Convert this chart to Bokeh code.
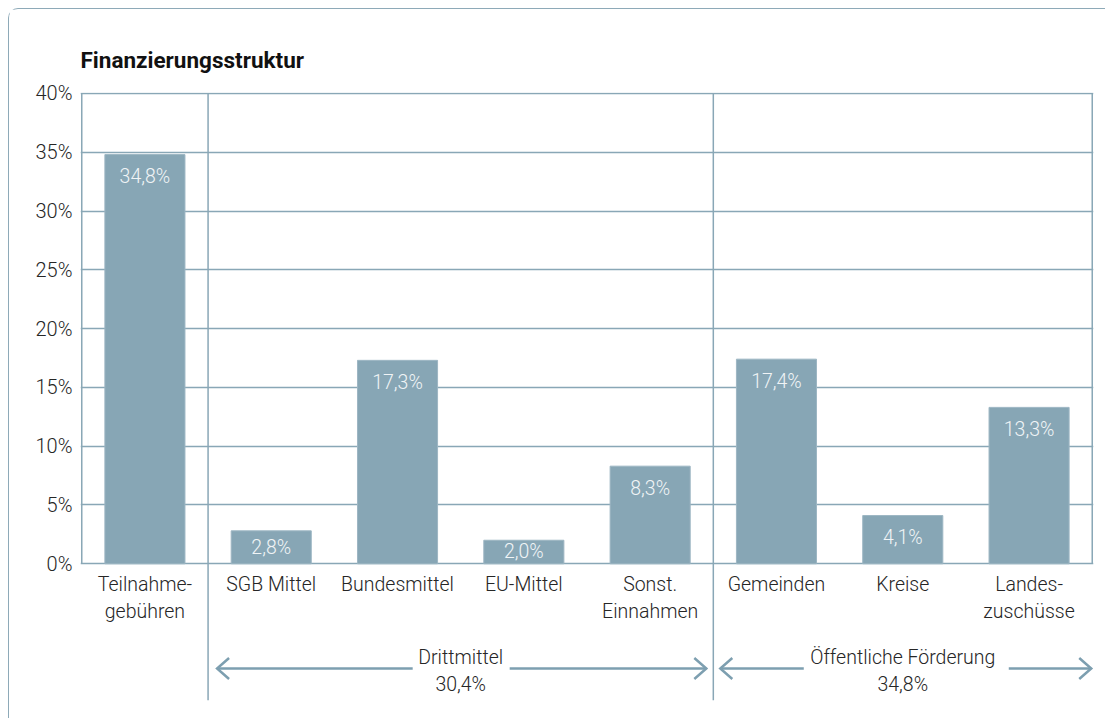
from bokeh.plotting import figure
from bokeh.models import FixedTicker, Range1d, ColumnDataSource
from bokeh.core.properties import value
from bokeh.embed import file_html
from bokeh.resources import INLINE

# ---------------- data ----------------
categories = ["Teilnahme-\ngebühren", "SGB Mittel", "Bundesmittel", "EU-Mittel",
              "Sonst.\nEinnahmen", "Gemeinden", "Kreise", "Landes-\nzuschüsse"]
shares = [34.8, 2.8, 17.3, 2.0, 8.3, 17.4, 4.1, 13.3]
share_labels = ["34,8%", "2,8%", "17,3%", "2,0%", "8,3%", "17,4%", "4,1%", "13,3%"]
y_ticks = [0, 5, 10, 15, 20, 25, 30, 35, 40]
y_tick_labels = ["0%", "5%", "10%", "15%", "20%", "25%", "30%", "35%", "40%"]
group_names = ["Drittmittel", "Öffentliche Förderung"]
group_totals = ["30,4%", "34,8%"]
group_first = [1, 5]
group_last = [4, 7]

# ---------------- style / geometry ----------------
FONT = "'Roboto Light', Roboto"
FONT_B = "Roboto"
FS = "19.5px"
BAR = "#87a6b5"
LINE = "#89a7b6"
ARROW = "#7d9fb0"
TEXT = "#262626"

W, H = 1097, 710
MB_L, MB_R, MB_T, MB_B = 71, 13, 83, 19
XR = (-0.51, 7.51)
YR = (-11.63, 40.08)
PX_X = (W - MB_L - MB_R) / (XR[1] - XR[0])   # pixels per x unit
PX_Y = (H - MB_T - MB_B) / (YR[1] - YR[0])   # pixels per y unit

p = figure(width=W, height=H, output_backend="svg", toolbar_location=None,
           x_range=Range1d(*XR), y_range=Range1d(*YR),
           min_border_left=MB_L, min_border_right=MB_R,
           min_border_top=MB_T, min_border_bottom=MB_B)
p.styles = {"margin-left": "8px", "margin-top": "8px",
            "border-left": "1.5px solid #8eaab8", "border-top": "1.5px solid #8eaab8",
            "border-top-left-radius": "10px"}
p.outline_line_color = None
p.background_fill_color = "white"
p.border_fill_color = "white"

# title
p.title.text = "Finanzierungsstruktur"
p.title.text_font = FONT_B
p.title.text_font_size = "22.5px"
p.title.text_font_style = "bold"
p.title.text_color = "#111111"
p.title.align = "left"
p.title.standoff = 40

# grid
p.xgrid.visible = False
p.ygrid.ticker = FixedTicker(ticks=y_ticks)
p.ygrid.grid_line_color = LINE
p.ygrid.grid_line_width = 1.5

# y axis
p.yaxis.ticker = FixedTicker(ticks=y_ticks)
p.yaxis.major_label_overrides = {t: l for t, l in zip(y_ticks, y_tick_labels)}
p.yaxis.axis_line_color = None
p.yaxis.major_tick_line_color = None
p.yaxis.minor_tick_line_color = None
p.yaxis.major_label_standoff = 2
p.yaxis.major_label_text_font = FONT
p.yaxis.major_label_text_font_size = "20px"
p.yaxis.major_label_text_color = TEXT

# x axis at the 0 line
idx = list(range(len(categories)))
p.xaxis.fixed_location = 0
p.xaxis.ticker = FixedTicker(ticks=idx)
p.xaxis.major_label_overrides = {i: c for i, c in zip(idx, categories)}
p.xaxis.axis_line_color = None
p.xaxis.major_tick_line_color = None
p.xaxis.minor_tick_line_color = None
p.xaxis.major_label_standoff = 3
p.xaxis.major_label_text_font = FONT
p.xaxis.major_label_text_font_size = FS
p.xaxis.major_label_text_color = TEXT
p.xaxis.major_label_text_line_height = 1.2

# frame side lines and group separators
seps = [group_first[0] - 0.5] + [l + 0.5 for l in group_last[:-1]]
p.segment(x0=[XR[0] + 0.01, XR[1] - 0.01], y0=[0, 0], x1=[XR[0] + 0.01, XR[1] - 0.01],
          y1=[y_ticks[-1]] * 2, line_color=LINE, line_width=1.5)
p.segment(x0=seps, y0=[YR[0]] * len(seps), x1=seps, y1=[y_ticks[-1]] * len(seps),
          line_color=LINE, line_width=1.5)

# bars
src = ColumnDataSource(dict(x=idx, top=shares, lab=share_labels,
                            ly=[v - min(22 / PX_Y, v / 2) for v in shares]))
p.vbar(x="x", top="top", width=0.634, source=src, fill_color=BAR,
       line_color="#9db6c3", line_width=1)
p.text(x="x", y="ly", text="lab", source=src, text_align="center",
       text_baseline="middle", text_color="#f0f4f6", text_font=value(FONT),
       text_font_size=FS)

# group arrows and labels
y_arrow = -(668 - 563.3) / PX_Y
gap = [(48, 49), (99, 106)]
tip_inset = [(9, 7), (7, 1)]
head_len, head_half = 12 / PX_X, 10.5 / PX_Y
for g in range(len(group_names)):
    x_left = group_first[g] - 0.5
    x_right = min(group_last[g] + 0.5, XR[1])
    xc = (x_left + x_right) / 2
    tl = x_left + tip_inset[g][0] / PX_X
    tr = x_right - tip_inset[g][1] / PX_X
    gl = xc - gap[g][0] / PX_X
    gr = xc + gap[g][1] / PX_X
    p.segment(x0=[tl, gr], y0=[y_arrow] * 2, x1=[gl, tr], y1=[y_arrow] * 2,
              line_color=ARROW, line_width=2.5)
    # chevrons
    p.line(x=[tl + head_len, tl, tl + head_len],
           y=[y_arrow + head_half, y_arrow, y_arrow - head_half],
           line_color=ARROW, line_width=2.5, line_join="miter")
    p.line(x=[tr - head_len, tr, tr - head_len],
           y=[y_arrow + head_half, y_arrow, y_arrow - head_half],
           line_color=ARROW, line_width=2.5, line_join="miter")
    p.text(x=[xc, xc], y=[y_arrow + 11 / PX_Y, y_arrow - 16 / PX_Y],
           text=[group_names[g], group_totals[g]], text_align="center",
           text_baseline="middle", text_color=TEXT, text_font=value(FONT),
           text_font_size=FS)

open("out.html", "w").write(file_html(p, INLINE))
